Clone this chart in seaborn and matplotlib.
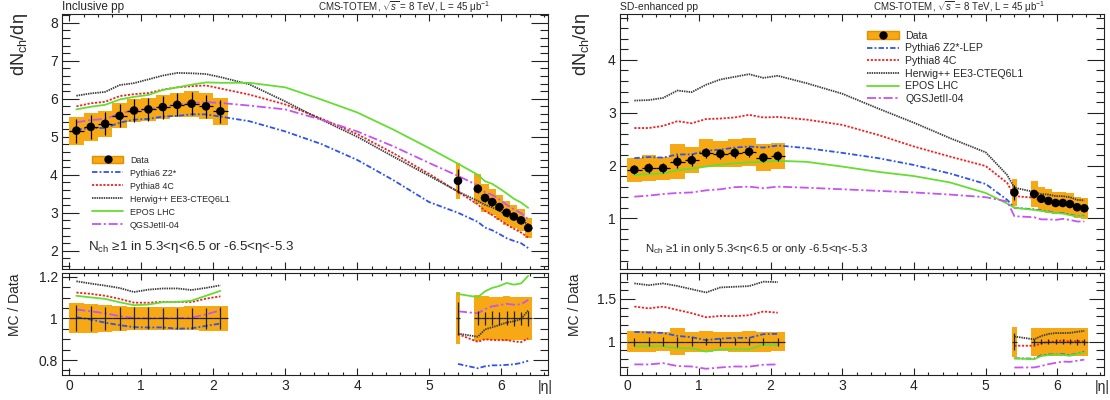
import numpy as np
import pandas as pd
import matplotlib
matplotlib.use('Agg')
import matplotlib.pyplot as plt
from matplotlib.lines import Line2D
from matplotlib.patches import Patch
from matplotlib.legend_handler import HandlerTuple
from matplotlib.ticker import MultipleLocator, FuncFormatter
import seaborn as sns

# bins
eta_c = [0.1, 0.3, 0.5, 0.7, 0.9, 1.1, 1.3, 1.5, 1.7, 1.9, 2.1]
eta_f = [5.4, 5.675, 5.775, 5.875, 5.975, 6.075, 6.175, 6.275, 6.375]
xerr_c = [0.1] * 11
xerr_f = [0.03, 0.05, 0.05, 0.05, 0.05, 0.05, 0.05, 0.05, 0.05]
eta_mid_incl = [2.5, 3.0, 3.5, 4.0, 4.5, 5.0]
eta_mid_sd = [2.5, 3.0, 3.5, 4.0, 4.5, 5.0, 5.3]

# inclusive pp data
incl_data_c = [5.16, 5.26, 5.34, 5.55, 5.69, 5.72, 5.78, 5.84, 5.87, 5.80, 5.67]
incl_stat_c = [0.32, 0.32, 0.30, 0.30, 0.30, 0.30, 0.30, 0.30, 0.30, 0.30, 0.30]
incl_sys_c = [0.37, 0.36, 0.35, 0.33, 0.31, 0.31, 0.31, 0.32, 0.34, 0.34, 0.35]
incl_data_f = [3.84, 3.63, 3.39, 3.28, 3.15, 3.00, 2.90, 2.80, 2.60]
incl_stat_f = [0.31, 0.12, 0.11, 0.11, 0.10, 0.10, 0.10, 0.09, 0.09]
incl_sys_f = [0.48, 0.40, 0.36, 0.34, 0.33, 0.32, 0.30, 0.29, 0.27]

# inclusive pp models (central, middle, forward)
incl_pythia6 = [5.19, 5.23, 5.23, 5.37, 5.45, 5.47, 5.53, 5.55, 5.59, 5.59, 5.53,
                5.41, 5.14, 4.81, 4.39, 3.86, 3.28,
                3.00, 2.76, 2.61, 2.54, 2.44, 2.33, 2.26, 2.20, 2.07]
incl_pythia8 = [5.80, 5.88, 5.92, 6.07, 6.12, 6.15, 6.24, 6.30, 6.33, 6.35, 6.27,
                6.11, 5.85, 5.48, 5.07, 4.57, 4.02,
                3.55, 3.22, 3.05, 2.94, 2.82, 2.69, 2.58, 2.48, 2.35]
incl_herwig = [6.08, 6.14, 6.18, 6.36, 6.41, 6.51, 6.61, 6.68, 6.67, 6.65, 6.57,
               6.38, 5.93, 5.45, 5.00, 4.48, 3.97,
               3.56, 3.31, 3.21, 3.14, 3.05, 2.94, 2.86, 2.79, 2.70]
incl_epos = [5.72, 5.79, 5.84, 5.98, 6.05, 6.10, 6.23, 6.30, 6.37, 6.43, 6.42,
             6.42, 6.30, 5.98, 5.64, 5.19, 4.70,
             4.29, 4.00, 3.83, 3.76, 3.64, 3.51, 3.37, 3.27, 3.13]
incl_qgsjet = [5.38, 5.44, 5.47, 5.61, 5.70, 5.72, 5.79, 5.85, 5.89, 5.91, 5.89,
               5.82, 5.72, 5.45, 5.14, 4.75, 4.31,
               3.97, 3.72, 3.54, 3.47, 3.35, 3.21, 3.09, 2.99, 2.83]

# SD-enhanced pp data
sd_data_c = [1.92, 1.95, 1.95, 2.07, 2.10, 2.24, 2.22, 2.24, 2.26, 2.15, 2.18]
sd_stat_c = [0.09, 0.10, 0.10, 0.12, 0.11, 0.10, 0.10, 0.10, 0.10, 0.09, 0.10]
sd_sys_c = [0.23, 0.24, 0.22, 0.33, 0.25, 0.27, 0.25, 0.26, 0.27, 0.25, 0.25]
sd_data_f = [1.49, 1.46, 1.37, 1.33, 1.29, 1.29, 1.27, 1.21, 1.19]
sd_stat_f = [0.15, 0.05, 0.04, 0.04, 0.04, 0.04, 0.04, 0.04, 0.04]
sd_sys_f = [0.26, 0.24, 0.225, 0.22, 0.21, 0.21, 0.21, 0.20, 0.195]

sd_pythia6 = [2.14, 2.16, 2.15, 2.21, 2.21, 2.28, 2.30, 2.34, 2.36, 2.34, 2.38,
              2.33, 2.24, 2.14, 2.01, 1.85, 1.65, 1.35,
              1.20, 1.17, 1.15, 1.13, 1.10, 1.10, 1.07, 1.04, 1.05]
sd_pythia8 = [2.71, 2.71, 2.75, 2.84, 2.80, 2.88, 2.89, 2.91, 2.96, 2.91, 2.92,
              2.87, 2.77, 2.58, 2.36, 2.17, 1.99, 1.67,
              1.42, 1.39, 1.34, 1.33, 1.29, 1.31, 1.27, 1.22, 1.19]
sd_herwig = [3.23, 3.24, 3.28, 3.42, 3.39, 3.53, 3.63, 3.68, 3.73, 3.66, 3.70,
             3.56, 3.36, 3.08, 2.81, 2.52, 2.25, 1.82,
             1.58, 1.50, 1.46, 1.45, 1.42, 1.42, 1.40, 1.35, 1.34]
sd_epos = [1.82, 1.84, 1.85, 1.91, 1.94, 1.98, 2.02, 2.04, 2.06, 2.07, 2.09,
           2.07, 1.98, 1.88, 1.80, 1.68, 1.48, 1.28,
           1.20, 1.16, 1.14, 1.12, 1.10, 1.09, 1.06, 1.04, 1.04]
sd_qgsjet = [1.41, 1.43, 1.46, 1.48, 1.49, 1.53, 1.55, 1.59, 1.60, 1.57, 1.60,
             1.58, 1.55, 1.52, 1.49, 1.45, 1.40, 1.32,
             1.04, 1.02, 0.98, 0.98, 0.97, 0.99, 0.97, 0.94, 0.94]

models = ['Pythia6', 'Pythia8', 'Herwig', 'EPOS', 'QGSJet']
incl_labels = ['Pythia6 Z2*', 'Pythia8 4C', 'Herwig++ EE3-CTEQ6L1', 'EPOS LHC', 'QGSJetII-04']
sd_labels = ['Pythia6 Z2*-LEP', 'Pythia8 4C', 'Herwig++ EE3-CTEQ6L1', 'EPOS LHC', 'QGSJetII-04']

colors = {'Pythia6': '#2f55e8', 'Pythia8': '#ee2222', 'Herwig': '#3a3a3a',
          'EPOS': '#66dd33', 'QGSJet': '#c455ee'}
dashes = {'Pythia6': (3, 1.2, 1, 1.2), 'Pythia8': (1.2, 0.9), 'Herwig': (0.8, 0.5),
          'EPOS': '', 'QGSJet': (5, 1.5, 1.2, 1.5)}
orange = '#f6a915'

sns.set_theme(style='ticks')
plt.rcParams['font.family'] = ['Liberation Sans', 'DejaVu Sans']
plt.rcParams['mathtext.fontset'] = 'custom'
plt.rcParams['mathtext.rm'] = 'Liberation Sans'
plt.rcParams['mathtext.it'] = 'Liberation Sans:italic'
plt.rcParams['axes.linewidth'] = 0.8
plt.rcParams['axes.edgecolor'] = '#222222'

W, H = 1110, 400
fig = plt.figure(figsize=(W / 100, H / 100), dpi=100)


def px_axes(x0, y0, x1, y1):
    return fig.add_axes([x0 / W, 1 - y1 / H, (x1 - x0) / W, (y1 - y0) / H])


def style_axes(ax, ymaj, ymin, ylen, show_x):
    ax.set_xlim(-0.1, 6.65)
    ax.xaxis.set_major_locator(MultipleLocator(1))
    ax.xaxis.set_minor_locator(MultipleLocator(0.2))
    ax.yaxis.set_major_locator(MultipleLocator(ymaj))
    ax.yaxis.set_minor_locator(MultipleLocator(ymin))
    ax.tick_params(which='both', direction='in', top=True, right=True,
                   colors='#222222', labelsize=10, pad=3)
    ax.tick_params(axis='x', which='major', length=5, width=0.8)
    ax.tick_params(axis='x', which='minor', length=2.5, width=0.8)
    ax.tick_params(axis='y', which='major', length=ylen, width=0.8)
    ax.tick_params(axis='y', which='minor', length=ylen / 2, width=0.8)
    ax.yaxis.set_major_formatter(FuncFormatter(lambda v, p: '%g' % round(v, 3)))
    if not show_x:
        ax.tick_params(axis='x', labelbottom=False)
    ax.set_xlabel('')
    ax.set_ylabel('')


def draw(ax, rax, eta_mid, data_c, stat_c, sys_c, data_f, stat_f, sys_f, mc, labels):
    eta_all = eta_c + eta_mid + eta_f
    n_c, n_f = len(eta_c), len(eta_f)
    rows, rrows = [], []
    for name, vals in zip(models, mc):
        for e, v in zip(eta_all, vals):
            rows.append((e, v, name))
        for e, v, d in zip(eta_c, vals[:n_c], data_c):
            rrows.append((e, v / d, name, 'c'))
        for e, v, d in zip(eta_f, vals[-n_f:], data_f):
            rrows.append((e, v / d, name, 'f'))
    df = pd.DataFrame(rows, columns=['eta', 'value', 'model'])
    rdf = pd.DataFrame(rrows, columns=['eta', 'ratio', 'model', 'seg'])

    eta = np.array(eta_c + eta_f)
    xerr = np.array(xerr_c + xerr_f)
    data = np.array(data_c + data_f)
    stat = np.array(stat_c + stat_f)
    sys_ = np.array(sys_c + sys_f)

    # top panel
    ax.bar(eta, 2 * sys_, bottom=data - sys_, width=2 * xerr, color=orange,
           edgecolor='none', zorder=1)
    sns.lineplot(data=df, x='eta', y='value', hue='model', style='model',
                 hue_order=models, style_order=models, palette=colors, dashes=dashes,
                 estimator=None, sort=False, legend=False, lw=1.3, ax=ax, zorder=2)
    ax.errorbar(eta, data, xerr=xerr, yerr=stat, fmt='none', ecolor='black',
                elinewidth=0.9, capsize=0, zorder=3)
    sns.scatterplot(x=eta, y=data, color='black', s=38, edgecolor='none', ax=ax, zorder=4)

    # ratio panel
    rax.bar(eta, 2 * sys_ / data, bottom=1 - sys_ / data, width=2 * xerr, color=orange,
            edgecolor='none', zorder=1)
    sns.lineplot(data=rdf, x='eta', y='ratio', hue='model', style='model', units='seg',
                 hue_order=models, style_order=models, palette=colors, dashes=dashes,
                 estimator=None, sort=False, legend=False, lw=1.3, ax=rax, zorder=2)
    rax.errorbar(eta, np.ones_like(eta), xerr=xerr, yerr=stat / data, fmt='none',
                 ecolor='#222222', elinewidth=0.9, capsize=0, zorder=3)

    handles = [(Patch(facecolor=orange, edgecolor='#e09000'),
                Line2D([], [], marker='o', color='black', ls='none', ms=5))]
    for name in models:
        d = dashes[name]
        ln = Line2D([], [], color=colors[name], lw=1.3)
        if d:
            ln.set_dashes(d)
        handles.append(ln)
    return handles, ['Data'] + labels


# inclusive panel
ax1 = px_axes(62, 14, 548, 269)
rax1 = px_axes(62, 273, 548, 375)
h1, l1 = draw(ax1, rax1, eta_mid_incl, incl_data_c, incl_stat_c, incl_sys_c,
              incl_data_f, incl_stat_f, incl_sys_f,
              [incl_pythia6, incl_pythia8, incl_herwig, incl_epos, incl_qgsjet], incl_labels)
ax1.set_ylim(1.52, 8.23)
rax1.set_ylim(0.728, 1.218)
style_axes(ax1, 1, 0.2, 12, False)
style_axes(rax1, 0.2, 0.05, 11, True)
ax1.legend(h1, l1, handler_map={tuple: HandlerTuple(ndivide=1, pad=0)}, loc='upper left',
           bbox_to_anchor=(0.062, 0.445), frameon=False, fontsize=6.4, handlelength=3.5,
           handletextpad=0.75, labelspacing=0.45, borderpad=0, borderaxespad=0)
ax1.text(0.054, 0.087, r'N$_{\rm ch}$ ≥1 in 5.3<η<6.5 or -6.5<η<-5.3',
         transform=ax1.transAxes, fontsize=9.6, va='center')

# SD-enhanced panel
ax2 = px_axes(620, 14, 1104, 269)
rax2 = px_axes(620, 273, 1104, 375)
h2, l2 = draw(ax2, rax2, eta_mid_sd, sd_data_c, sd_stat_c, sd_sys_c,
              sd_data_f, sd_stat_f, sd_sys_f,
              [sd_pythia6, sd_pythia8, sd_herwig, sd_epos, sd_qgsjet], sd_labels)
ax2.set_ylim(0.04, 4.87)
rax2.set_ylim(0.61, 1.804)
style_axes(ax2, 1, 0.2, 12, False)
style_axes(rax2, 0.5, 0.1, 11, True)
ax2.legend(h2, l2, handler_map={tuple: HandlerTuple(ndivide=1, pad=0)}, loc='upper left',
           bbox_to_anchor=(0.511, 0.934), frameon=False, fontsize=7.6, handlelength=3.0,
           handletextpad=0.6, labelspacing=0.25, borderpad=0, borderaxespad=0)
ax2.text(0.051, 0.08, r'N$_{\rm ch}$ ≥1 in only 5.3<η<6.5 or only -6.5<η<-5.3',
         transform=ax2.transAxes, fontsize=8.2, va='center')

# headers and axis titles
title = r'CMS-TOTEM, $\sqrt{s}$ = 8 TeV, L = 45 μb$^{-1}$'
fig.text(62 / W, 1 - 7 / H, 'Inclusive pp', fontsize=8.5, va='center', ha='left')
fig.text(490 / W, 1 - 7 / H, title, fontsize=7, va='center', ha='right')
fig.text(620 / W, 1 - 7 / H, 'SD-enhanced pp', fontsize=7.5, va='center', ha='left')
fig.text(1045 / W, 1 - 7 / H, title, fontsize=7, va='center', ha='right')

for x_lab, x_mc in [(20, 15), (581, 575)]:
    fig.text(x_lab / W, 1 - 13 / H, r'dN$_{\rm ch}$/dη', rotation=90, va='top',
             ha='center', fontsize=13)
    fig.text(x_mc / W, 1 - 273 / H, 'MC / Data', rotation=90, va='top',
             ha='center', fontsize=10)
for x_eta in [545, 1102]:
    fig.text(x_eta / W, 1 - 387 / H, '|η|', va='center', ha='center', fontsize=10)

fig.savefig('out.png', dpi=100)
